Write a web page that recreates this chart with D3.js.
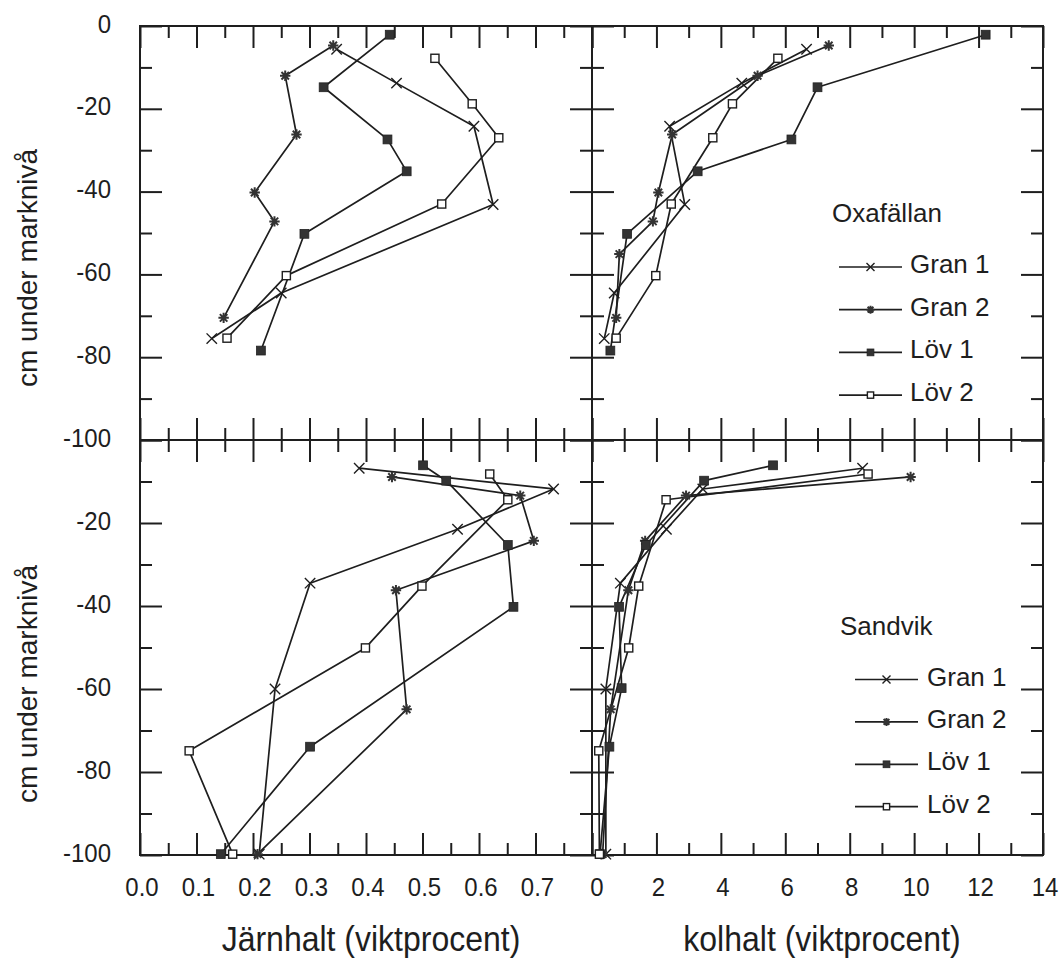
<!DOCTYPE html>
<html><head><meta charset="utf-8">
<script src="https://cdn.jsdelivr.net/npm/d3@7"></script>
<style>
body{margin:0;background:#fff}
svg text{font-family:"Liberation Sans",Arial,Helvetica,sans-serif;fill:#1e1e1e}
</style>
</head><body>
<svg id="chart" width="1062" height="960"></svg>
<script>
// ---------- data ----------
const seriesNames = ["Gran 1", "Gran 2", "Löv 1", "Löv 2"];
const markerTypes = ["x", "star", "fill", "open"];
const siteNames = ["Oxafällan", "Sandvik"];

const feTicks = [0.0, 0.1, 0.2, 0.3, 0.4, 0.5, 0.6, 0.7];
const cTicks = [0, 2, 4, 6, 8, 10, 12, 14];
const depthTicksTop = [0, -20, -40, -60, -80, -100];
const depthTicksBottom = [-20, -40, -60, -80, -100];

// Oxafällan
const oxaGran1Depth = [-5.6, -13.8, -24.2, -43.1, -64.5, -75.5];
const oxaGran1Fe    = [0.348, 0.454, 0.591, 0.625, 0.250, 0.127];
const oxaGran1C     = [6.66, 4.65, 2.41, 2.88, 0.69, 0.38];
const oxaGran2Depth = [-4.7, -12.0, -26.2, -40.2, -47.2, -55.1, -70.5];
const oxaGran2Fe    = [0.342, 0.257, 0.277, 0.203, 0.238, null, 0.148];
const oxaGran2C     = [7.35, 5.14, 2.49, 2.06, 1.89, 0.85, 0.75];
const oxaLov1Depth  = [-2.1, -14.8, -27.4, -35.1, -50.2, -78.4];
const oxaLov1Fe     = [0.442, 0.325, 0.438, 0.472, 0.291, 0.214];
const oxaLov1C      = [12.22, 7.0, 6.19, 3.28, 1.09, 0.57];
const oxaLov2Depth  = [-7.8, -18.8, -27.0, -43.0, -60.3, -75.4];
const oxaLov2Fe     = [0.522, 0.588, 0.635, 0.534, 0.259, 0.154];
const oxaLov2C      = [5.77, 4.36, 3.75, 2.46, 1.98, 0.75];

// Sandvik
const sanGran1Depth = [-6.8, -11.8, -21.5, -34.5, -60.0, -99.8];
const sanGran1Fe    = [0.388, 0.732, 0.562, 0.301, 0.239, 0.211];
const sanGran1C     = [8.40, 3.44, 2.31, 0.88, 0.43, 0.43];
const sanGran2Depth = [-8.9, -13.4, -24.3, -36.2, -64.9, -99.8];
const sanGran2Fe    = [0.446, 0.673, 0.697, 0.453, 0.472, 0.208];
const sanGran2C     = [9.89, 2.92, 1.65, 1.13, 0.58, 0.33];
const sanLov1Depth  = [-6.1, -9.8, -25.3, -40.2, -59.8, -73.9, -99.8];
const sanLov1Fe     = [0.501, 0.542, 0.651, 0.661, null, 0.301, 0.143];
const sanLov1C      = [5.62, 3.48, 1.67, 0.84, 0.92, 0.54, 0.25];
const sanLov2Depth  = [-8.2, -14.4, -35.2, -50.1, -74.9, -99.8];
const sanLov2Fe     = [0.619, 0.651, 0.499, 0.399, 0.087, 0.164];
const sanLov2C      = [8.57, 2.30, 1.45, 1.14, 0.21, 0.23];

// ---------- layout ----------
const X0 = 140, XM = 592, X1 = 1043, Y0 = 26, YM = 440, Y1 = 855;
const svg = d3.select("#chart");

const xFe = d3.scaleLinear().domain([0, 0.8]).range([X0, XM]);
const xC  = d3.scaleLinear().domain([0, 14]).range([XM, X1]);
const yTop = d3.scaleLinear().domain([0, -100]).range([Y0, YM]);
const yBot = d3.scaleLinear().domain([0, -100]).range([YM, Y1]);

const ink = "#1e1e1e";

const zip = (d, v) => d.map((dd, i) => [v[i], dd]).filter(p => p[0] != null);

const panels = [
  {x: xFe, y: yTop, major: d3.range(0, 0.81, 0.1), minor: d3.range(0.05, 0.8, 0.1),
   series: [zip(oxaGran1Depth, oxaGran1Fe), zip(oxaGran2Depth, oxaGran2Fe), zip(oxaLov1Depth, oxaLov1Fe), zip(oxaLov2Depth, oxaLov2Fe)]},
  {x: xC, y: yTop, major: d3.range(0, 15, 2), minor: d3.range(1, 14, 2),
   series: [zip(oxaGran1Depth, oxaGran1C), zip(oxaGran2Depth, oxaGran2C), zip(oxaLov1Depth, oxaLov1C), zip(oxaLov2Depth, oxaLov2C)]},
  {x: xFe, y: yBot, major: d3.range(0, 0.81, 0.1), minor: d3.range(0.05, 0.8, 0.1),
   series: [zip(sanGran1Depth, sanGran1Fe), zip(sanGran2Depth, sanGran2Fe), zip(sanLov1Depth, sanLov1Fe), zip(sanLov2Depth, sanLov2Fe)]},
  {x: xC, y: yBot, major: d3.range(0, 15, 2), minor: d3.range(1, 14, 2),
   series: [zip(sanGran1Depth, sanGran1C), zip(sanGran2Depth, sanGran2C), zip(sanLov1Depth, sanLov1C), zip(sanLov2Depth, sanLov2C)]}
];

const yMajor = d3.range(0, -101, -20), yMinor = d3.range(-10, -100, -20);

function styleAxis(g) {
  g.selectAll("path.domain").remove();
  g.selectAll("line").attr("stroke", ink).attr("stroke-width", 2);
  g.selectAll("text").remove();
}

panels.forEach(p => {
  const [xa, xb] = p.x.range(), [ya, yb] = p.y.range();
  const g = svg.append("g");
  [[p.major, 22], [p.minor, 12]].forEach(([vals, len]) => {
    g.append("g").attr("transform", `translate(0,${yb})`)
      .call(d3.axisBottom(p.x).tickValues(vals).tickSize(-len).tickSizeOuter(0)).call(styleAxis);
    g.append("g").attr("transform", `translate(0,${ya})`)
      .call(d3.axisTop(p.x).tickValues(vals).tickSize(-len).tickSizeOuter(0)).call(styleAxis);
  });
  [[yMajor, 22], [yMinor, 12]].forEach(([vals, len]) => {
    g.append("g").attr("transform", `translate(${xa},0)`)
      .call(d3.axisLeft(p.y).tickValues(vals).tickSize(-len).tickSizeOuter(0)).call(styleAxis);
    g.append("g").attr("transform", `translate(${xb},0)`)
      .call(d3.axisRight(p.y).tickValues(vals).tickSize(-len).tickSizeOuter(0)).call(styleAxis);
  });
  g.append("rect").attr("x", xa).attr("y", ya).attr("width", xb - xa).attr("height", yb - ya)
    .attr("fill", "none").attr("stroke", ink).attr("stroke-width", 2);
});

// ---------- markers ----------
function marker(g, type, cx, cy, s) {
  if (type === "x") {
    g.append("path").attr("d", `M${cx - s},${cy - s}L${cx + s},${cy + s}M${cx - s},${cy + s}L${cx + s},${cy - s}`)
      .attr("stroke", ink).attr("stroke-width", 1.4).attr("fill", "none");
  } else if (type === "star") {
    const d = s * 0.72;
    g.append("path").attr("d",
      `M${cx - s},${cy}L${cx + s},${cy}M${cx},${cy - s}L${cx},${cy + s}` +
      `M${cx - d},${cy - d}L${cx + d},${cy + d}M${cx - d},${cy + d}L${cx + d},${cy - d}`)
      .attr("stroke", "#333").attr("stroke-width", 2).attr("fill", "none");
  } else if (type === "fill") {
    g.append("rect").attr("x", cx - s * 0.85).attr("y", cy - s * 0.85).attr("width", s * 1.7).attr("height", s * 1.7)
      .attr("fill", "#333").attr("stroke", "#222").attr("stroke-width", 0.8);
  } else {
    g.append("rect").attr("x", cx - s * 0.78).attr("y", cy - s * 0.78).attr("width", s * 1.56).attr("height", s * 1.56)
      .attr("fill", "#fff").attr("stroke", ink).attr("stroke-width", 1.4);
  }
}

// ---------- data lines ----------
panels.forEach(p => {
  const line = d3.line().x(d => p.x(d[0])).y(d => p.y(d[1]));
  p.series.forEach(pts => {
    svg.append("path").datum(pts).attr("d", line)
      .attr("fill", "none").attr("stroke", ink).attr("stroke-width", 1.7).attr("stroke-linejoin", "round");
  });
  p.series.forEach((pts, i) => {
    const g = svg.append("g");
    pts.forEach(d => marker(g, markerTypes[i], p.x(d[0]), p.y(d[1]), 5.2));
  });
});

// ---------- tick labels (slightly tall, like the scan) ----------
function tallText(g, x, y, txt, size, anchor, sy) {
  g.append("text").attr("transform", `translate(${x},${y}) scale(1,${sy})`)
    .attr("text-anchor", anchor).attr("font-size", size).text(txt);
}
const lab = svg.append("g");
feTicks.forEach(v => tallText(lab, xFe(v) + 2, 896, d3.format(".1f")(v), 24, "middle", 1.1));
cTicks.forEach(v => tallText(lab, xC(v) + (v === 0 ? 5 : 2), 896, String(v), 24, "middle", 1.1));
depthTicksTop.forEach(v => tallText(lab, 111, yTop(v) + 6.5, v === 0 ? "0" : "-" + Math.abs(v), 24, "end", 1.05));
depthTicksBottom.forEach(v => tallText(lab, 111, yBot(v) + 6.5, "-" + Math.abs(v), 24, "end", 1.05));

// ---------- axis titles ----------
tallText(svg, 371, 951, "Järnhalt (viktprocent)", 32, "middle", 1.08);
tallText(svg, 822, 951, "kolhalt (viktprocent)", 32, "middle", 1.08);
[268, 684].forEach(cy => {
  svg.append("text").attr("transform", `translate(37,${cy}) rotate(-90)`).attr("text-anchor", "middle")
    .attr("font-size", 28).text("cm under marknivå");
});

// ---------- legends ----------
const legends = [
  {title: siteNames[0], tx: 832, ty: 222, x0: 839, x1: 902, mx: 870.5, textX: 910, y0: 267, dy: 42.7},
  {title: siteNames[1], tx: 840, ty: 635, x0: 855, x1: 918, mx: 886.5, textX: 927, y0: 679.5, dy: 42.4}
];
legends.forEach(L => {
  const g = svg.append("g");
  g.append("text").attr("x", L.tx).attr("y", L.ty).attr("font-size", 26).text(L.title);
  seriesNames.forEach((name, i) => {
    const y = L.y0 + i * L.dy;
    g.append("line").attr("x1", L.x0).attr("x2", L.x1).attr("y1", y).attr("y2", y)
      .attr("stroke", ink).attr("stroke-width", 1.7);
    marker(g, markerTypes[i], L.mx, y, 4);
    g.append("text").attr("x", L.textX).attr("y", y + 6).attr("font-size", 26).text(name);
  });
});
</script>
</body></html>
